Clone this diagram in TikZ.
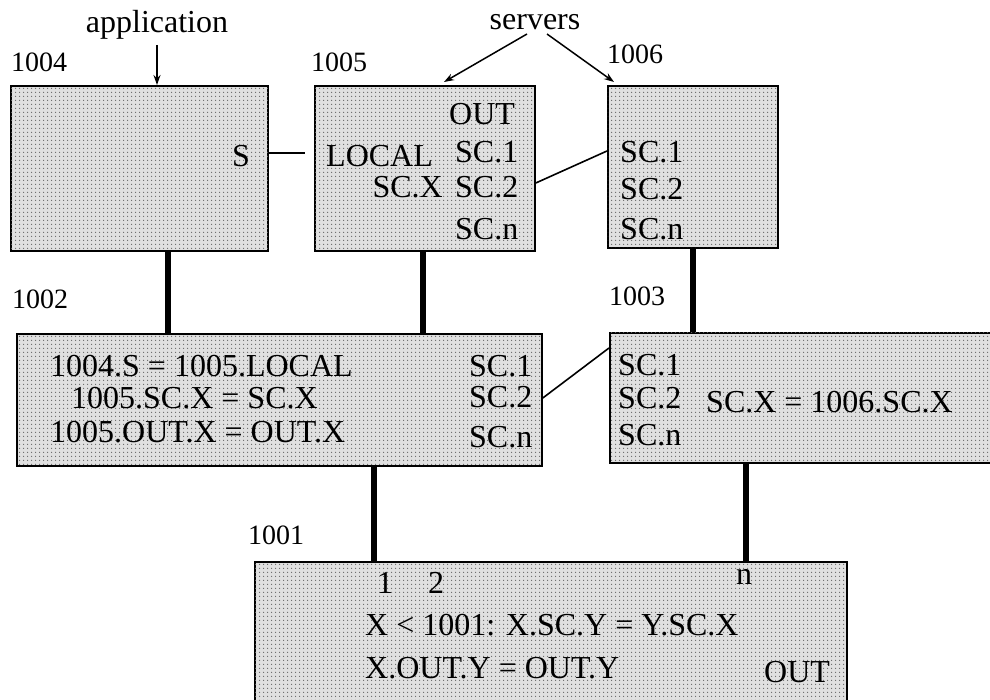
\documentclass[tikz,border=0pt]{standalone}
\usepackage{fontspec}
\setmainfont{Liberation Serif}
\usetikzlibrary{patterns.meta,arrows.meta}
\tikzdeclarepattern{name=scandots, type=uncolored,
  bounding box={(-2pt,-2pt) and (2pt,2pt)}, tile size={(4pt,4pt)},
  code={\fill (0,0) circle (0.8pt);}}
\begin{document}
\begin{tikzpicture}[x=1pt,y=-1pt,
  every node/.style={font=\fontsize{32}{38}\selectfont},
  boxst/.style={draw, line width=1.8pt, fill=black!12, anchor=north west, inner sep=0pt,
    postaction={pattern=scandots, pattern color=black!60}},
  txt/.style={anchor=base west, inner sep=0pt},
  txtr/.style={anchor=base east, inner sep=0pt},
  lbl/.style={anchor=base west, inner sep=0pt, font=\fontsize{28}{33}\selectfont},
  thin conn/.style={line width=1.6pt},
  thick conn/.style={line width=6.5pt},
  pointer/.style={line width=1.5pt, -{Stealth[length=10pt,width=7pt]}}]
\useasboundingbox (0,0) rectangle (990,700);
% boxes
\node[boxst, minimum width=257pt, minimum height=165pt] (b1004) at (10,85) {};
\node[boxst, minimum width=220pt, minimum height=165pt] (b1005) at (314,85) {};
\node[boxst, minimum width=170pt, minimum height=162pt] (b1006) at (607,85) {};
\node[boxst, minimum width=525pt, minimum height=132pt] (b1002) at (16,333) {};
\node[boxst, minimum width=391pt, minimum height=130pt] (b1003) at (609,332) {};
\node[boxst, minimum width=592pt, minimum height=150pt] (b1001) at (254,561) {};
% labels above
\node[anchor=base, inner sep=0pt] (app) at (157,33) {application};
\node[anchor=base, inner sep=0pt] (srv) at (535,30) {servers};
\node[lbl] (l1004) at (11,72) {1004};
\node[lbl] (l1005) at (311,72) {1005};
\node[lbl] (l1006) at (607,64) {1006};
\node[lbl] (l1002) at (12,309) {1002};
\node[lbl] (l1003) at (609,306) {1003};
\node[lbl] (l1001) at (248,544) {1001};
% pointers
\coordinate (appTop) at (157,45);
\draw[pointer] (appTop) -- (appTop |- b1004.north);
\coordinate (srvL) at (527,34);
\coordinate (srvR) at (547,34);
\coordinate (srvLend) at (444,82);
\coordinate (srvRend) at (614,82);
\draw[pointer] (srvL) -- (srvLend);
\draw[pointer] (srvR) -- (srvRend);
% 1004 text
\node[txtr] (s1004) at (250,167) {S};
% 1005 text
\node[txt] (local) at (326,167) {LOCAL};
\node[txtr] (scx5) at (443,198) {SC.X};
\node[txt] (out5) at (449,125) {OUT};
\node[txt] (sc15) at (455,163) {SC.1};
\node[txt] (sc25) at (455,198) {SC.2};
\node[txt] (scn5) at (455,240) {SC.n};
% 1006 text
\node[txt] (sc16) at (620,163) {SC.1};
\node[txt] (sc26) at (620,200) {SC.2};
\node[txt] (scn6) at (620,240) {SC.n};
% 1002 text
\node[txt] (eq1) at (50,377) {1004.S = 1005.LOCAL};
\node[txt] (eq2) at (71,408) {1005.SC.X = SC.X};
\node[txt] (eq3) at (50,442) {1005.OUT.X = OUT.X};
\node[txt] (sc12) at (469,377) {SC.1};
\node[txt] (sc22) at (469,407) {SC.2};
\node[txt] (scn2) at (469,447) {SC.n};
% 1003 text
\node[txt] (sc13) at (618,375) {SC.1};
\node[txt] (sc23) at (618,408) {SC.2};
\node[txt] (scn3) at (618,445) {SC.n};
\node[txt] (eq4) at (706,412) {SC.X = 1006.SC.X};
% 1001 text
\node[txt] (p1) at (377,593) {1};
\node[txt] (p2) at (428,593) {2};
\node[txt] (pn) at (736,584) {n};
\node[txt] (eq5) at (365,635) {X < 1001: X.SC.Y = Y.SC.X};
\node[txt] (eq6) at (365,678) {X.OUT.Y = OUT.Y};
\node[txt] (out1) at (764,682) {OUT};
% thin connectors
\coordinate (sEnd) at (305,153);
\draw[thin conn] (sEnd -| b1004.east) -- (sEnd);
\draw[thin conn] (b1005.east |- 0,183) -- (b1006.west |- 0,151);
\draw[thin conn] (b1002.east |- 0,398) -- (b1003.west |- 0,348);
% thick connectors
\coordinate (x1) at (168,0);
\coordinate (x2) at (423,0);
\coordinate (x3) at (693,0);
\coordinate (x4) at (374,0);
\coordinate (x5) at (746,0);
\draw[thick conn] (x1 |- b1004.south) -- (x1 |- b1002.north);
\draw[thick conn] (x2 |- b1005.south) -- (x2 |- b1002.north);
\draw[thick conn] (x3 |- b1006.south) -- (x3 |- b1003.north);
\draw[thick conn] (x4 |- b1002.south) -- (x4 |- b1001.north);
\draw[thick conn] (x5 |- b1003.south) -- (x5 |- b1001.north);
\end{tikzpicture}
\end{document}
